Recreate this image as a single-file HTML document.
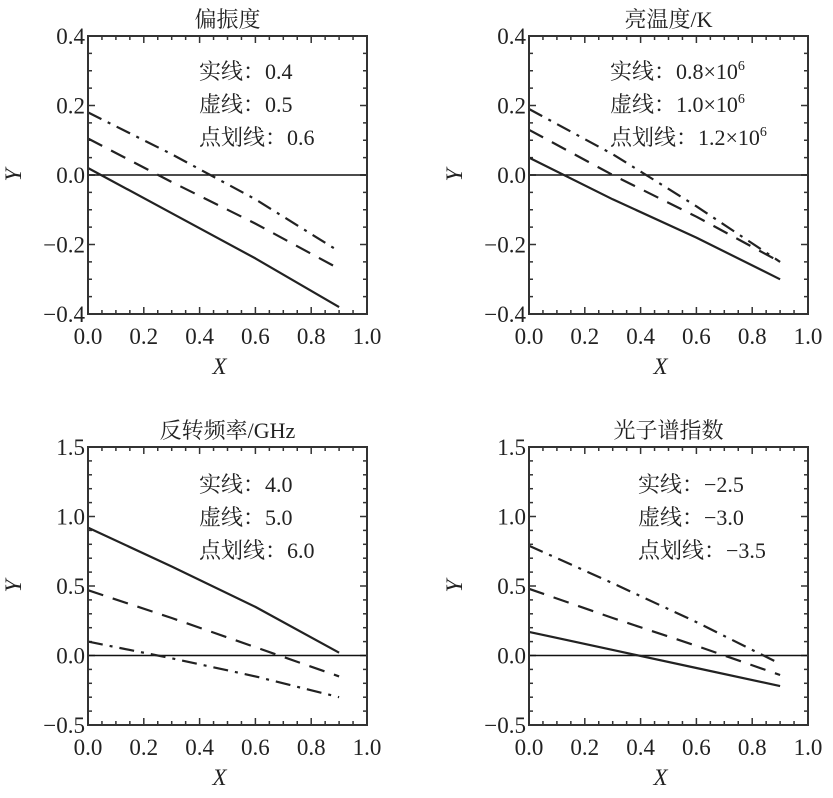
<!DOCTYPE html>
<html><head><meta charset="utf-8"><style>
body{margin:0;background:#fff;width:833px;height:793px;overflow:hidden}
svg text{font-family:"Liberation Serif","Noto Serif CJK SC",serif;fill:#222}
</style></head><body>
<svg id="c" width="833" height="793" viewBox="0 0 833 793"></svg>
<script>
const xs = [0, 0.3, 0.6, 0.9];
const titles = ["偏振度", "亮温度/K", "反转频率/GHz", "光子谱指数"];
const legendSolid = ["实线：0.4", "实线：0.8×10^6", "实线：4.0", "实线：−2.5"];
const legendDash = ["虚线：0.5", "虚线：1.0×10^6", "虚线：5.0", "虚线：−3.0"];
const legendDot = ["点划线：0.6", "点划线：1.2×10^6", "点划线：6.0", "点划线：−3.5"];
const xTicks = [0, 0.2, 0.4, 0.6, 0.8, 1.0];
const yTicksA = [-0.4, -0.2, 0.0, 0.2, 0.4];
const yTicksB = [-0.5, 0.0, 0.5, 1.0, 1.5];
const p1Solid = [0.02, -0.11, -0.24, -0.38];
const p1Dash = [0.105, -0.02, -0.14, -0.27];
const p1Dot = [0.18, 0.06, -0.07, -0.22];
const p2Solid = [0.05, -0.07, -0.18, -0.30];
const p2Dash = [0.13, 0.0, -0.12, -0.25];
const p2Dot = [0.19, 0.06, -0.09, -0.25];
const p3Solid = [0.92, 0.64, 0.35, 0.02];
const p3Dash = [0.47, 0.27, 0.06, -0.15];
const p3Dot = [0.10, -0.02, -0.15, -0.30];
const p4Solid = [0.17, 0.04, -0.09, -0.22];
const p4Dash = [0.48, 0.27, 0.07, -0.14];
const p4Dot = [0.79, 0.52, 0.24, -0.06];

const NS = "http://www.w3.org/2000/svg";
const svg = document.getElementById("c");
function mk(tag, attrs, parent){const e=document.createElementNS(NS,tag);for(const k in attrs)e.setAttribute(k,attrs[k]);(parent||svg).appendChild(e);return e;}
const fmt = v => (v<0?"−":"")+Math.abs(v).toFixed(1);

const panels = [
 {x0:88,y0:36,yTicks:yTicksA,minorY:0.05,series:[p1Solid,p1Dash,p1Dot],lx:199,ly:79},
 {x0:529,y0:36,yTicks:yTicksA,minorY:0.05,series:[p2Solid,p2Dash,p2Dot],lx:610,ly:79},
 {x0:88,y0:447,yTicks:yTicksB,minorY:0.1,series:[p3Solid,p3Dash,p3Dot],lx:199,ly:492},
 {x0:529,y0:447,yTicks:yTicksB,minorY:0.1,series:[p4Solid,p4Dash,p4Dot],lx:638,ly:492}
];
const W=279,H=278;
const dashes=["", "16,10", "15,7,3,7"];
panels.forEach((p,i)=>{
 const g=mk("g",{});
 
 
 const ymin=p.yTicks[0], ymax=p.yTicks[p.yTicks.length-1];
 const sx=v=>p.x0+v*W;
 const sy=v=>p.y0+H-(v-ymin)/(ymax-ymin)*H;
 const t=mk("text",{x:p.x0+W/2,y:p.y0-9,"text-anchor":"middle","font-size":22},g);t.textContent=titles[i];
 
 
 for(let v=0;v<=1.0001;v+=0.05){const L=(Math.round(v*100)%20===0)?7:4;
  mk("line",{x1:sx(v),x2:sx(v),y1:p.y0+H,y2:p.y0+H-L,stroke:"#333","stroke-width":1.5},g);
  mk("line",{x1:sx(v),x2:sx(v),y1:p.y0,y2:p.y0+L,stroke:"#333","stroke-width":1.5},g);}
 const stepMaj=p.yTicks[1]-p.yTicks[0];
 for(let v=ymin;v<=ymax+1e-6;v+=p.minorY){const isMaj=Math.abs(Math.round((v-ymin)/stepMaj)*stepMaj-(v-ymin))<1e-6;const L=isMaj?7:4;
  mk("line",{x1:p.x0,x2:p.x0+L,y1:sy(v),y2:sy(v),stroke:"#333","stroke-width":1.5},g);
  mk("line",{x1:p.x0+W,x2:p.x0+W-L,y1:sy(v),y2:sy(v),stroke:"#333","stroke-width":1.5},g);}
 xTicks.forEach(v=>{const e=mk("text",{x:sx(v),y:p.y0+H+30,"text-anchor":"middle","font-size":23},g);e.textContent=v.toFixed(1);
  
  });
 p.yTicks.forEach(v=>{const e=mk("text",{x:p.x0-3,y:sy(v)+8,"text-anchor":"end","font-size":23},g);e.textContent=fmt(v);
  
  });
 const xl=mk("text",{x:p.x0+W/2-8,y:p.y0+H+60,"text-anchor":"middle","font-size":23,"font-style":"italic"},g);xl.textContent="X";
 
 
 const yl=mk("text",{x:0,y:0,"text-anchor":"middle","font-size":23,"font-style":"italic",transform:`translate(${p.x0-67},${p.y0+H/2}) rotate(-90)`},g);yl.textContent="Y";
 
 
 const z=mk("line",{x1:p.x0,x2:p.x0+W,y1:sy(0),y2:sy(0),stroke:"#111","stroke-width":1.6},g);
 
 
 p.series.forEach((s,k)=>{
  const d=s.map((v,j)=>(j?"L":"M")+sx(xs[j]).toFixed(1)+","+sy(v).toFixed(1)).join(" ");
  const e=mk("path",{d:d,fill:"none",stroke:"#222","stroke-width":2.2,"stroke-dasharray":dashes[k],"stroke-linejoin":"round"},g);
  
  
 });
 mk("rect",{x:p.x0,y:p.y0,width:W,height:H,fill:"none",stroke:"#333","stroke-width":2},g);
 [legendSolid,legendDash,legendDot].forEach((arr,k)=>{
  const e=mk("text",{x:p.lx,y:p.ly+k*33,"font-size":22},g);
  const parts=arr[i].split("^");
  const a=mk("tspan",{},e);a.textContent=parts[0];
  if(parts[1]){const b=mk("tspan",{dy:-9,"font-size":14},e);b.textContent=parts[1];}
  
  
 });
});
</script>
</body></html>
